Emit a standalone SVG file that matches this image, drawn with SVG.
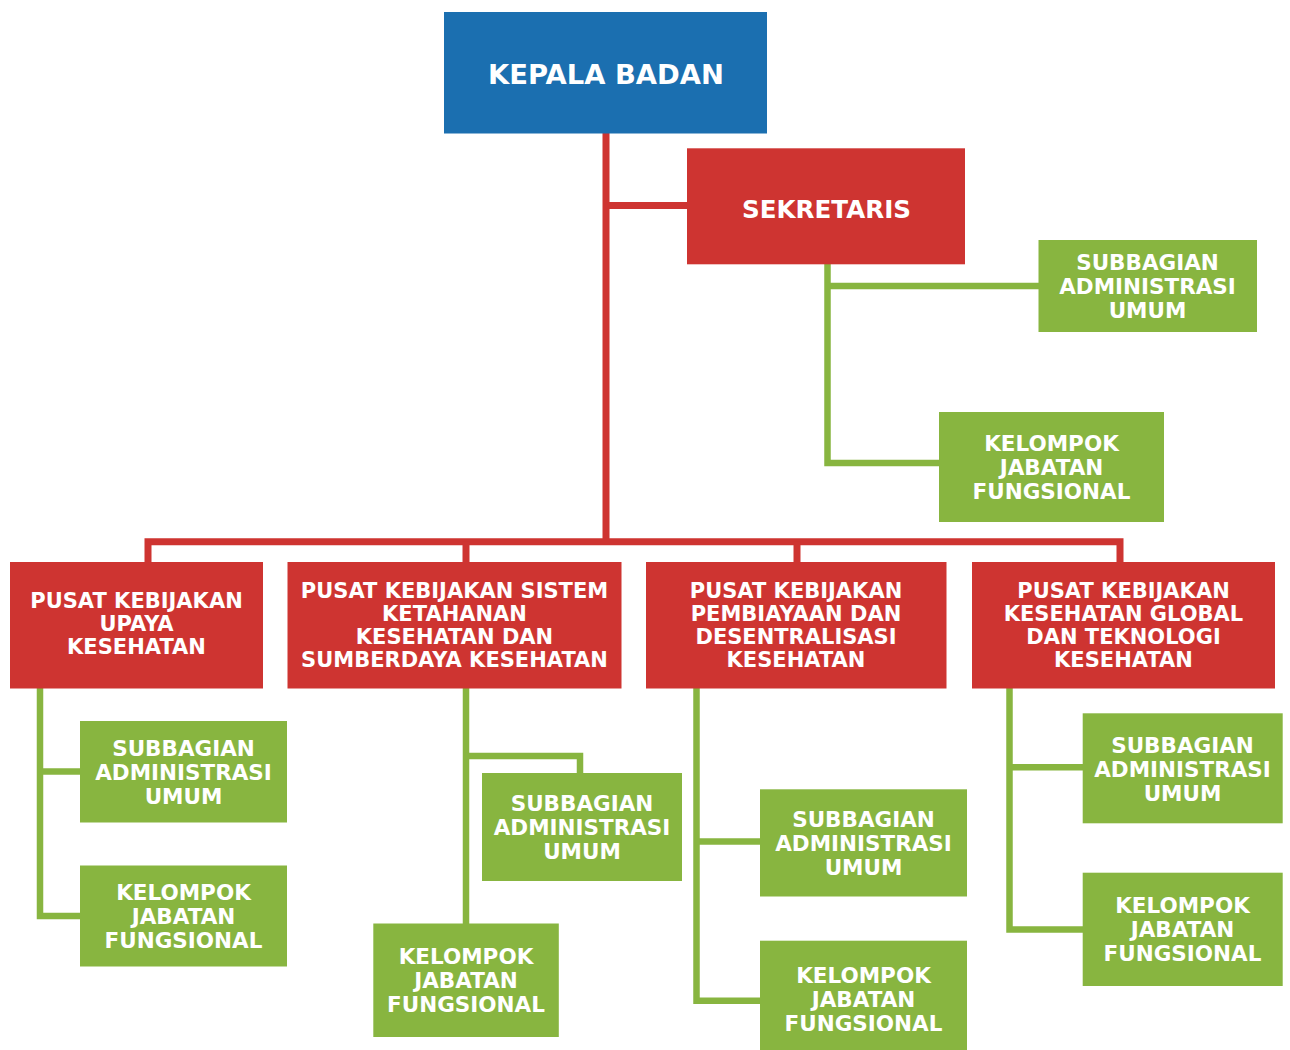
<svg xmlns="http://www.w3.org/2000/svg" width="1290" height="1050" viewBox="0 0 1290 1050">
<style>
.blue{fill:#1b6fb0}
.red{fill:#ce3431}
.green{fill:#88b540}
.lr{fill:none;stroke:#ce3431;stroke-width:7;stroke-linejoin:miter;stroke-linecap:butt}
.lg{fill:none;stroke:#88b540;stroke-width:6.5;stroke-linejoin:miter;stroke-linecap:butt}
text{font-family:"DejaVu Sans","Liberation Sans",sans-serif;font-weight:bold;fill:#ffffff;text-anchor:middle}
.t1{font-size:27.4px}
.t2{font-size:24.6px}
.t3{font-size:21px}
.t4{font-size:21.5px}
</style>
<rect width="1290" height="1050" fill="#ffffff"/>
<g id="connectors">
<path class="lr" d="M606 133 V545"/>
<path class="lr" d="M606 205.5 H687"/>
<path class="lr" d="M148 562 V541.7 H1120 V562"/>
<path class="lr" d="M466 541.7 V562"/>
<path class="lr" d="M797 541.7 V562"/>
<path class="lg" d="M827.5 264 V463 H939"/>
<path class="lg" d="M827.5 286 H1039"/>
<path class="lg" d="M40 688 V916 H80"/>
<path class="lg" d="M40 771.5 H80"/>
<path class="lg" d="M466 688 V924"/>
<path class="lg" d="M466 756 H580 V773"/>
<path class="lg" d="M696.5 688 V1000.7 H760"/>
<path class="lg" d="M696.5 841.5 H760"/>
<path class="lg" d="M1009.5 688 V929.5 H1083"/>
<path class="lg" d="M1009.5 767.3 H1083"/>
</g>
<g id="kepala">
<rect class="blue" x="444" y="12" width="323" height="121.5"/>
<text class="t1" x="606" y="83.5">KEPALA BADAN</text>
</g>
<g id="sekretaris">
<rect class="red" x="687" y="148.3" width="278" height="116"/>
<text class="t2" x="826.5" y="218">SEKRETARIS</text>
</g>
<g id="sek-subbagian">
<rect class="green" x="1038.5" y="240" width="218.5" height="92"/>
<text class="t4" x="1147.5" y="269.5">SUBBAGIAN</text>
<text class="t4" x="1147.5" y="293.5">ADMINISTRASI</text>
<text class="t4" x="1147.5" y="317.5">UMUM</text>
</g>
<g id="sek-kelompok">
<rect class="green" x="939" y="412" width="225" height="110"/>
<text class="t4" x="1051.5" y="450.5">KELOMPOK</text>
<text class="t4" x="1051.5" y="474.5">JABATAN</text>
<text class="t4" x="1051.5" y="498.5">FUNGSIONAL</text>
</g>
<g id="pusat-upaya">
<rect class="red" x="10" y="562" width="253" height="126.5"/>
<text class="t3" x="136.5" y="608">PUSAT KEBIJAKAN</text>
<text class="t3" x="136.5" y="631">UPAYA</text>
<text class="t3" x="136.5" y="653.5">KESEHATAN</text>
</g>
<g id="pusat-sistem">
<rect class="red" x="287.5" y="562" width="334" height="126.5"/>
<text class="t3" x="454.5" y="597.5">PUSAT KEBIJAKAN SISTEM</text>
<text class="t3" x="454.5" y="620.5">KETAHANAN</text>
<text class="t3" x="454.5" y="643.5">KESEHATAN DAN</text>
<text class="t3" x="454.5" y="666.5">SUMBERDAYA KESEHATAN</text>
</g>
<g id="pusat-pembiayaan">
<rect class="red" x="646" y="562" width="300.5" height="126.5"/>
<text class="t3" x="796" y="597.5">PUSAT KEBIJAKAN</text>
<text class="t3" x="796" y="620.5">PEMBIAYAAN DAN</text>
<text class="t3" x="796" y="643.5">DESENTRALISASI</text>
<text class="t3" x="796" y="666.5">KESEHATAN</text>
</g>
<g id="pusat-global">
<rect class="red" x="972" y="562" width="303" height="126.5"/>
<text class="t3" x="1123.5" y="597.5">PUSAT KEBIJAKAN</text>
<text class="t3" x="1123.5" y="620.5">KESEHATAN GLOBAL</text>
<text class="t3" x="1123.5" y="643.5">DAN TEKNOLOGI</text>
<text class="t3" x="1123.5" y="666.5">KESEHATAN</text>
</g>
<g id="upaya-subbagian">
<rect class="green" x="80" y="721" width="207" height="101.5"/>
<text class="t4" x="183.5" y="755.5">SUBBAGIAN</text>
<text class="t4" x="183.5" y="779.5">ADMINISTRASI</text>
<text class="t4" x="183.5" y="803.5">UMUM</text>
</g>
<g id="upaya-kelompok">
<rect class="green" x="80" y="865.5" width="207" height="101"/>
<text class="t4" x="183.5" y="900">KELOMPOK</text>
<text class="t4" x="183.5" y="924">JABATAN</text>
<text class="t4" x="183.5" y="948">FUNGSIONAL</text>
</g>
<g id="sistem-subbagian">
<rect class="green" x="482" y="773" width="200" height="108"/>
<text class="t4" x="582" y="810.5">SUBBAGIAN</text>
<text class="t4" x="582" y="834.5">ADMINISTRASI</text>
<text class="t4" x="582" y="858.5">UMUM</text>
</g>
<g id="sistem-kelompok">
<rect class="green" x="373.3" y="923.5" width="185.5" height="113.5"/>
<text class="t4" x="466" y="964">KELOMPOK</text>
<text class="t4" x="466" y="988">JABATAN</text>
<text class="t4" x="466" y="1012">FUNGSIONAL</text>
</g>
<g id="pembiayaan-subbagian">
<rect class="green" x="760" y="789.3" width="207" height="107.2"/>
<text class="t4" x="863.5" y="826.5">SUBBAGIAN</text>
<text class="t4" x="863.5" y="850.5">ADMINISTRASI</text>
<text class="t4" x="863.5" y="874.5">UMUM</text>
</g>
<g id="pembiayaan-kelompok">
<rect class="green" x="760" y="940.7" width="207" height="109.3"/>
<text class="t4" x="863.5" y="983.3">KELOMPOK</text>
<text class="t4" x="863.5" y="1007.3">JABATAN</text>
<text class="t4" x="863.5" y="1031.3">FUNGSIONAL</text>
</g>
<g id="global-subbagian">
<rect class="green" x="1082.7" y="713.3" width="200" height="110"/>
<text class="t4" x="1182.5" y="753.3">SUBBAGIAN</text>
<text class="t4" x="1182.5" y="777.3">ADMINISTRASI</text>
<text class="t4" x="1182.5" y="801.3">UMUM</text>
</g>
<g id="global-kelompok">
<rect class="green" x="1082.7" y="872.7" width="200" height="113.3"/>
<text class="t4" x="1182.5" y="913">KELOMPOK</text>
<text class="t4" x="1182.5" y="937">JABATAN</text>
<text class="t4" x="1182.5" y="961">FUNGSIONAL</text>
</g>
</svg>
